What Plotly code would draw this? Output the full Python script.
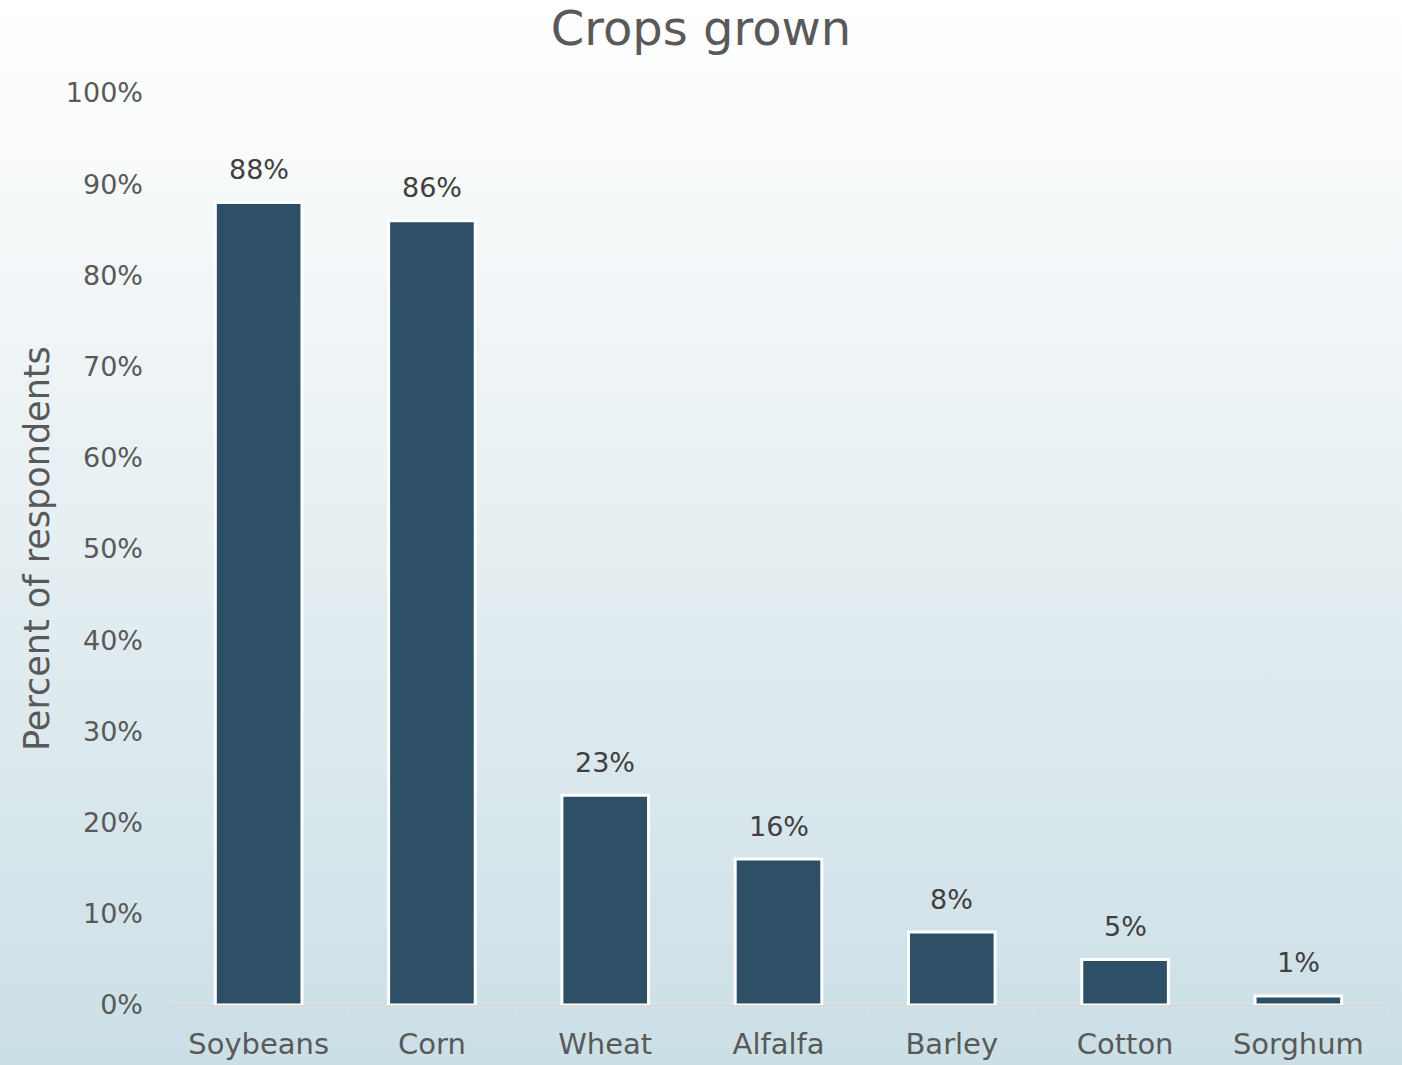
import plotly.graph_objects as go
import base64

categories = ["Soybeans", "Corn", "Wheat", "Alfalfa", "Barley", "Cotton", "Sorghum"]
values = [88, 86, 23, 16, 8, 5, 1]
labels = ["88%", "86%", "23%", "16%", "8%", "5%", "1%"]
y_ticks = [0, 10, 20, 30, 40, 50, 60, 70, 80, 90, 100]
y_tick_text = [f"{v}%" for v in y_ticks]

FONT = "DejaVu Sans"
GRAY = "#595959"

svg = (
    '<svg xmlns="http://www.w3.org/2000/svg" width="100" height="100" preserveAspectRatio="none">'
    '<defs><linearGradient id="g" x1="0" y1="0" x2="0" y2="1">'
    '<stop offset="0" stop-color="#ffffff"/>'
    '<stop offset="0.15" stop-color="#f8fafb"/>'
    '<stop offset="0.5" stop-color="#e6eff2"/>'
    '<stop offset="1" stop-color="#cbdfe6"/>'
    '</linearGradient></defs>'
    '<rect width="100" height="100" fill="url(#g)"/></svg>'
)
bg = "data:image/svg+xml;base64," + base64.b64encode(svg.encode()).decode()

L, R, T, B = 172, 17, 93, 60
W, H = 1402, 1065
pw, ph = W - L - R, H - T - B

fig = go.Figure()
fig.add_trace(go.Bar(
    x=categories, y=values,
    marker=dict(color="#2d5066", line=dict(color="white", width=3)),
    width=0.5,
    hoverinfo="skip",
))

for c, v, t in zip(categories, values, labels):
    fig.add_annotation(x=c, y=v, text=t, showarrow=False, yanchor="middle",
                       yshift=33, font=dict(family=FONT, size=27, color="#404040"))

fig.add_annotation(text="Percent of respondents", xref="paper", yref="paper",
                   x=(37 - L) / pw, y=(1005 - 549) / ph, xanchor="center", yanchor="middle",
                   textangle=-90, showarrow=False,
                   font=dict(family=FONT, size=35, color=GRAY))

fig.add_layout_image(dict(
    source=bg, xref="paper", yref="paper",
    x=-L / pw, y=1 + T / ph, sizex=W / pw, sizey=H / ph,
    xanchor="left", yanchor="top", sizing="stretch", layer="below",
))

fig.update_layout(
    width=W, height=H,
    margin=dict(l=L, r=R, t=T, b=B, autoexpand=False),
    paper_bgcolor="rgba(0,0,0,0)",
    plot_bgcolor="rgba(0,0,0,0)",
    title=dict(text="Crops grown", x=0.5, xanchor="center", y=0.974, yanchor="middle",
               font=dict(family=FONT, size=48, color=GRAY)),
    showlegend=False,
    bargap=0.5,
    xaxis=dict(
        automargin=False,
        showline=True, linecolor="#d9d9d9", linewidth=2,
        ticks="outside", tickson="boundaries", ticklen=10, tickcolor="#d9d9d9", tickwidth=2,
        tickfont=dict(family=FONT, size=29, color=GRAY),
        ticklabelstandoff=12,
        showgrid=False, fixedrange=True,
    ),
    yaxis=dict(
        automargin=False,
        range=[0, 100], tickvals=y_ticks, ticktext=y_tick_text,
        tickfont=dict(family=FONT, size=27, color=GRAY),
        ticklabelstandoff=28,
        showgrid=False, zeroline=False, showline=False, ticks="",
        fixedrange=True,
    ),
)

fig.write_html("out.html")
